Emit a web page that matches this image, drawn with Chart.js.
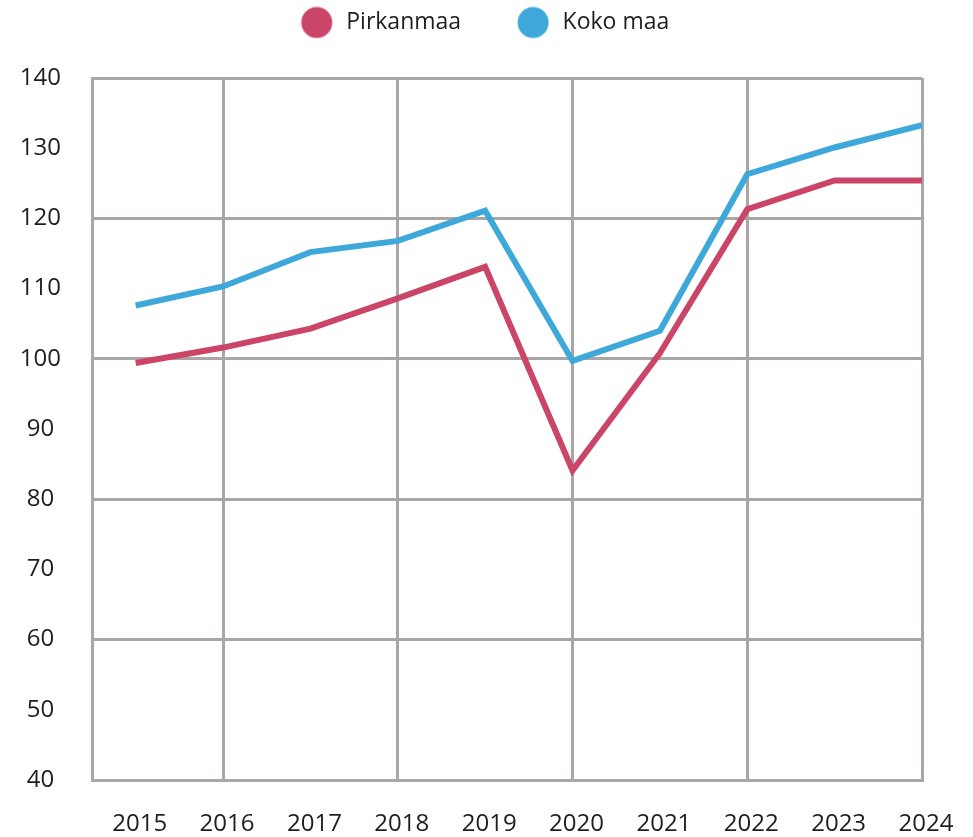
<!DOCTYPE html>
<html>
<head>
<meta charset="utf-8">
<script src="https://cdn.jsdelivr.net/npm/chart.js@4/dist/chart.umd.min.js"></script>
<style>
  html, body { margin: 0; padding: 0; background: #ffffff; }
  #wrap { width: 973px; height: 837px; }
</style>
</head>
<body>
<div id="wrap"><canvas id="c" width="973" height="837"></canvas></div>
<script>
// ---- data ----
const years = [2015, 2016, 2017, 2018, 2019, 2020, 2021, 2022, 2023, 2024];
const seriesNames = ['Pirkanmaa', 'Koko maa'];
const pirkanmaa = [99.4, 101.6, 104.3, 108.6, 113.1, 84.1, 100.8, 121.3, 125.4, 125.4];
const kokoMaa   = [107.6, 110.3, 115.2, 116.8, 121.1, 99.7, 104.0, 126.3, 130.1, 133.3];
const yTicks = [40, 50, 60, 70, 80, 90, 100, 110, 120, 130, 140];

// ---- styles ----
const RED = '#cb4569';
const BLUE = '#3ea8da';
const GRID = '#aaa6a6';
const TEXT = '#1e1e1e';
const FONT = "'Open Sans', sans-serif";

function makeDot(color) {
  const c = document.createElement('canvas');
  c.width = 80; c.height = 34;
  const g = c.getContext('2d');
  g.fillStyle = color;
  g.beginPath();
  g.arc(62, 17, 15.5, 0, Math.PI * 2);
  g.fill();
  return c;
}
const dots = [makeDot(RED), makeDot(BLUE)];

const legendTweak = {
  id: 'legendTweak',
  beforeInit(chart) {
    const fit = chart.legend.fit;
    chart.legend.fit = function () { fit.call(this); this.height = 78; };
  },
  afterLayout(chart) {
    const lg = chart.legend;
    lg.left -= 9; lg.right -= 9;
    lg.top += 1; lg.bottom += 1;
  }
};

new Chart(document.getElementById('c'), {
  type: 'line',
  data: {
    datasets: [
      { label: seriesNames[0], data: years.map((x, i) => ({ x, y: pirkanmaa[i] })),
        borderColor: RED, backgroundColor: RED, borderWidth: 6, pointRadius: 0, tension: 0 },
      { label: seriesNames[1], data: years.map((x, i) => ({ x, y: kokoMaa[i] })),
        borderColor: BLUE, backgroundColor: BLUE, borderWidth: 6, pointRadius: 0, tension: 0 }
    ]
  },
  options: {
    responsive: false,
    animation: false,
    layout: { padding: { left: 20, right: 51, top: 0, bottom: 0 } },
    plugins: {
      tooltip: { enabled: false },
      legend: {
        position: 'top',
        align: 'center',
        labels: {
          usePointStyle: true,
          pointStyleWidth: 80,
          padding: 10,
          color: TEXT,
          font: { family: FONT, size: 23 },
          generateLabels(chart) {
            const items = Chart.defaults.plugins.legend.labels.generateLabels(chart);
            items.forEach((it, i) => { it.pointStyle = dots[i]; });
            return items;
          }
        }
      }
    },
    scales: {
      x: {
        type: 'linear',
        min: 2014.5,
        max: 2024,
        afterBuildTicks(scale) { scale.ticks = years.map(v => ({ value: v })); },
        afterFit(scale) { scale.height = 57; scale.paddingRight = 0; scale.paddingLeft = 0; },
        ticks: {
          color: TEXT, font: { family: FONT, size: 24 }, padding: 30,
          maxRotation: 0, autoSkip: false, labelOffset: 4,
          callback: v => String(v)
        },
        grid: {
          drawTicks: false,
          lineWidth: 3,
          color: ctx => (ctx.tick && ctx.tick.value % 2 === 0) ? GRID : 'rgba(0,0,0,0)'
        },
        border: { display: true, color: GRID, width: 3 }
      },
      y: {
        min: 40,
        max: 140,
        afterBuildTicks(scale) { scale.ticks = yTicks.map(v => ({ value: v })); },
        afterFit(scale) { scale.width = 72; },
        ticks: {
          color: TEXT, font: { family: FONT, size: 24 }, padding: 31,
          crossAlign: 'center',
          callback: v => String(v)
        },
        grid: {
          drawTicks: false,
          lineWidth: 3,
          color: ctx => (ctx.tick && ctx.tick.value % 20 === 0) ? GRID : 'rgba(0,0,0,0)'
        },
        border: { display: true, color: GRID, width: 3 }
      }
    }
  },
  plugins: [legendTweak]
});
</script>
</body>
</html>
